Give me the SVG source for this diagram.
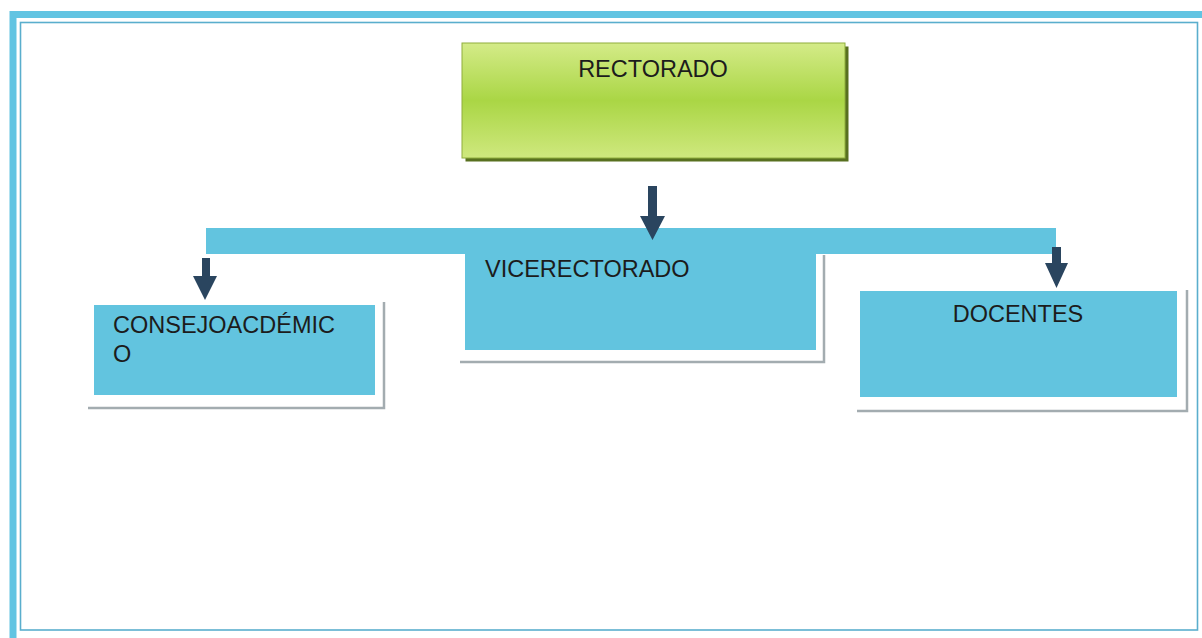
<svg xmlns="http://www.w3.org/2000/svg" width="1202" height="638" viewBox="0 0 1202 638">
  <defs>
    <linearGradient id="green" x1="0" y1="0" x2="0" y2="1">
      <stop offset="0" stop-color="#d4eb88"/>
      <stop offset="0.5" stop-color="#aad645"/>
      <stop offset="1" stop-color="#cfe87e"/>
    </linearGradient>
    <style>
      .lbl { font-family: "Liberation Sans", Arial, sans-serif; font-size: 23.5px; fill: #1c1c1c; }
      .blue { fill: #62c4df; }
      .shade { fill: none; stroke: #a3acb0; stroke-width: 2.5; }
      .arrow { fill: #2a455f; }
    </style>
  </defs>
  <rect width="1202" height="638" fill="#ffffff"/>
  <!-- frame -->
  <g id="frame">
    <rect x="13" y="14.5" width="1200" height="630" fill="none" stroke="#62c4e2" stroke-width="7"/>
    <rect x="20.5" y="22.5" width="1177" height="607.5" fill="none" stroke="#5aaecd" stroke-width="1.6"/>
  </g>
  <!-- connectors -->
  <g id="connectors">
    <rect class="blue" x="206" y="228" width="850" height="26"/>
    <polygon class="arrow" points="648,186 657,186 657,216 665,216 652.5,240 640,216 648,216"/>
    <polygon class="arrow" points="202,258 210,258 210,276 217,276 205,300 193,276 202,276"/>
    <polygon class="arrow" points="1052,247 1061,247 1061,263 1068,263 1056.5,288 1045,263 1052,263"/>
  </g>
  <g id="rectorado">
    <rect x="465.5" y="46.5" width="383" height="115" fill="#58701f"/>
    <rect x="462" y="43" width="383" height="115" fill="url(#green)" stroke="#8fae3c" stroke-width="1"/>
    <text class="lbl" x="653" y="77" text-anchor="middle">RECTORADO</text>
  </g>
  <g id="vicerectorado">
    <polyline class="shade" points="824,255 824,362 460,362"/>
    <rect class="blue" x="465" y="240" width="351" height="110"/>
    <text class="lbl" x="485" y="277">VICERECTORADO</text>
  </g>
  <g id="consejo">
    <polyline class="shade" points="384,302 384,408 88,408"/>
    <rect class="blue" x="94" y="305" width="281" height="90"/>
    <text class="lbl" x="113" y="333">CONSEJOACDÉMIC</text>
    <text class="lbl" x="113" y="362">O</text>
  </g>
  <g id="docentes">
    <polyline class="shade" points="1187,290 1187,411 857,411"/>
    <rect class="blue" x="860" y="291" width="317" height="106"/>
    <text class="lbl" x="1018" y="322" text-anchor="middle">DOCENTES</text>
  </g>
</svg>
